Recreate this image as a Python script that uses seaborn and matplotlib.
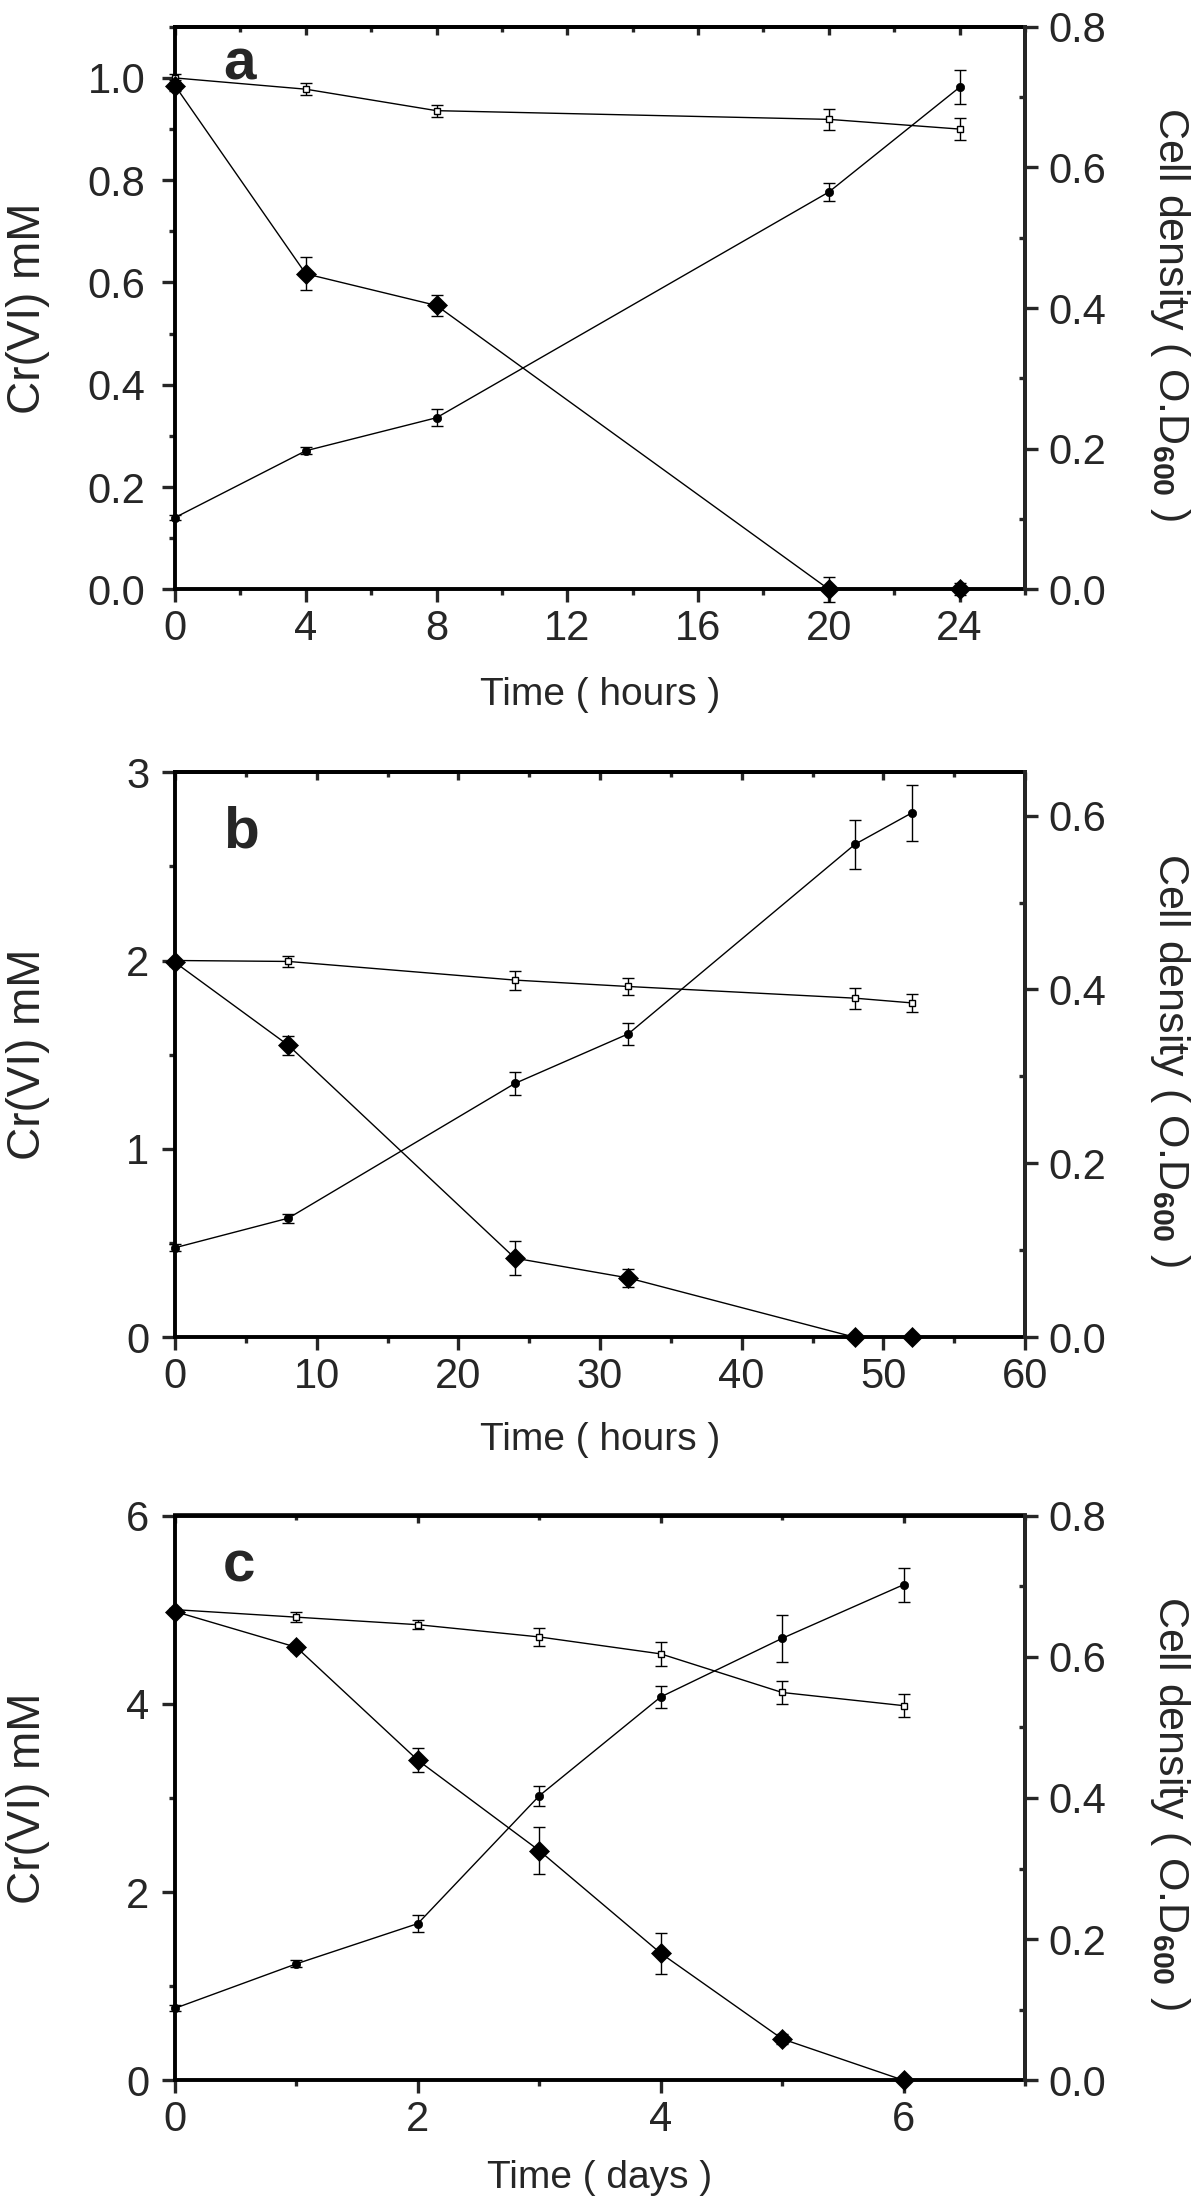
import numpy as np
import pandas as pd
import matplotlib
matplotlib.use("Agg")
import matplotlib.pyplot as plt
from matplotlib.ticker import MultipleLocator, FormatStrFormatter
import seaborn as sns

# ---------------- data ----------------
a_time = [0, 4, 8, 20, 24]
a_cr = [0.985, 0.617, 0.555, 0.0, 0.0]
a_cr_err = [0.01, 0.032, 0.02, 0.025, 0.012]
a_ctrl = [1.0, 0.978, 0.936, 0.919, 0.900]
a_ctrl_err = [0.008, 0.012, 0.012, 0.021, 0.022]
a_od = [0.102, 0.197, 0.244, 0.565, 0.714]
a_od_err = [0.004, 0.005, 0.012, 0.013, 0.024]

b_time = [0, 8, 24, 32, 48, 52]
b_cr = [1.99, 1.55, 0.42, 0.315, 0.0, 0.0]
b_cr_err = [0.02, 0.05, 0.09, 0.05, 0.0, 0.0]
b_ctrl = [2.0, 1.995, 1.896, 1.862, 1.80, 1.775]
b_ctrl_err = [0.01, 0.03, 0.05, 0.045, 0.055, 0.048]
b_od = [0.103, 0.137, 0.292, 0.349, 0.567, 0.603]
b_od_err = [0.004, 0.005, 0.013, 0.013, 0.028, 0.032]

c_time = [0, 1, 2, 3, 4, 5, 6]
c_cr = [4.98, 4.60, 3.40, 2.44, 1.35, 0.44, 0.0]
c_cr_err = [0.03, 0.04, 0.13, 0.25, 0.22, 0.05, 0.0]
c_ctrl = [5.0, 4.92, 4.84, 4.71, 4.53, 4.12, 3.98]
c_ctrl_err = [0.02, 0.05, 0.05, 0.10, 0.13, 0.12, 0.12]
c_od = [0.102, 0.165, 0.222, 0.403, 0.543, 0.626, 0.702]
c_od_err = [0.004, 0.005, 0.012, 0.014, 0.015, 0.033, 0.024]

panel_letters = ["a", "b", "c"]
x_labels = ["Time ( hours )", "Time ( hours )", "Time ( days )"]
y_left_label = "Cr(VI) mM"
y_right_label = r"Cell density ( O.D$_{\mathbf{600}}$ )"

# ---------------- style ----------------
sns.set_style("white")
plt.rcParams["font.family"] = ["Liberation Sans", "DejaVu Sans"]
plt.rcParams["mathtext.fontset"] = "custom"
plt.rcParams["mathtext.rm"] = "Liberation Sans"
plt.rcParams["mathtext.bf"] = "Liberation Sans:bold"
plt.rcParams["mathtext.it"] = "Liberation Sans:italic"

TICK_FS = 30
XLABEL_FS = 28
YLABEL_FS = 33
Y2LABEL_FS = 31
SPINE_W = 2.8

fig = plt.figure(figsize=(12, 22.03), dpi=100)
W, H = 1200.0, 2203.0
L, R = 175.0, 1025.0
panel_px = [(26.8, 589.3), (772.1, 1337.3), (1515.5, 2080.3)]
xlabel_y_px = [695, 1440, 2178]
letter_base_px = [79, 847, 1582]


def draw_series(ax, t, y, yerr, marker, ms, mfc, mew, cap):
    df = pd.DataFrame({"t": t, "y": y})
    sns.lineplot(data=df, x="t", y="y", ax=ax, color="black", lw=1.0,
                 marker=marker, markersize=ms, markerfacecolor=mfc,
                 markeredgecolor="black", markeredgewidth=mew,
                 errorbar=None, clip_on=False, zorder=5, legend=False)
    cont = ax.errorbar(t, y, yerr=yerr, fmt="none", ecolor="black",
                       elinewidth=1.0, capsize=cap, capthick=1.0, zorder=4)
    for art in cont.get_children():
        art.set_clip_on(False)


def panel(i, t, cr, cr_e, ctrl, ctrl_e, od, od_e, xlim, xmaj, xmin,
          ylim, ymaj, ymin, yfmt, y2lim, left_pad):
    top, bot = panel_px[i]
    ax = fig.add_axes([L / W, 1 - bot / H, (R - L) / W, (bot - top) / H])
    ax.set_facecolor("none")
    ax2 = ax.twinx()

    # series
    draw_series(ax, t, ctrl, ctrl_e, "s", 5, "white", 1.0, 4.5)
    draw_series(ax, t, cr, cr_e, "D", 10, "black", 0.5, 4.5)
    draw_series(ax2, t, od, od_e, "o", 6, "black", 0.5, 4.5)

    ax.set_xlim(*xlim)
    ax.set_ylim(*ylim)
    ax2.set_ylim(*y2lim)

    ax.xaxis.set_major_locator(MultipleLocator(xmaj))
    ax.xaxis.set_minor_locator(MultipleLocator(xmin))
    ax.yaxis.set_major_locator(MultipleLocator(ymaj))
    ax.yaxis.set_minor_locator(MultipleLocator(ymin))
    ax.yaxis.set_major_formatter(FormatStrFormatter(yfmt))
    ax2.yaxis.set_major_locator(MultipleLocator(0.2))
    ax2.yaxis.set_minor_locator(MultipleLocator(0.1))
    ax2.yaxis.set_major_formatter(FormatStrFormatter("%.1f"))

    for sp in ax.spines.values():
        sp.set_linewidth(SPINE_W)
        sp.set_color("black")
    for k in ["top", "bottom", "left"]:
        ax2.spines[k].set_visible(False)
    ax2.spines["right"].set_linewidth(SPINE_W)

    ax.tick_params(axis="x", which="major", direction="out", length=9.5,
                   width=2.4, labelsize=TICK_FS, pad=5, top=False, bottom=True)
    ax.tick_params(axis="x", which="minor", direction="out", length=4.5,
                   width=2.4, top=False, bottom=True)
    ax.tick_params(axis="y", which="major", direction="out", length=9.5,
                   width=2.4, labelsize=TICK_FS, pad=left_pad, left=True, right=False)
    ax.tick_params(axis="y", which="minor", direction="out", length=4.5,
                   width=2.4, left=True, right=False)
    ax2.tick_params(axis="y", which="major", direction="out", length=9.5,
                    width=2.4, labelsize=TICK_FS, pad=7)
    ax2.tick_params(axis="y", which="minor", direction="in", length=4.5,
                    width=2.4)

    sec = ax.secondary_xaxis("top")
    sec.xaxis.set_major_locator(MultipleLocator(xmaj))
    sec.xaxis.set_minor_locator(MultipleLocator(xmin))
    sec.tick_params(axis="x", which="major", direction="in", length=6,
                    width=2.4, labeltop=False)
    sec.tick_params(axis="x", which="minor", direction="in", length=3.5,
                    width=2.4)
    sec.spines["top"].set_linewidth(SPINE_W)

    hpx = bot - top
    ax.set_xlabel(x_labels[i], fontsize=XLABEL_FS, va="center")
    ax.xaxis.set_label_coords(0.5, -(xlabel_y_px[i] - bot) / hpx)
    ax.set_ylabel(y_left_label, fontsize=YLABEL_FS, va="center")
    ax.yaxis.set_label_coords((28 - L) / (R - L), 0.5)
    ax2.set_ylabel(y_right_label, fontsize=Y2LABEL_FS, rotation=270,
                   va="center", ha="center")
    ax2.yaxis.set_label_coords((1170 - L) / (R - L), 0.49)

    ax.text((223 - L) / (R - L), (bot - letter_base_px[i]) / hpx,
            panel_letters[i], transform=ax.transAxes, fontsize=42,
            fontweight="bold", ha="left", va="baseline")


panel(0, a_time, a_cr, a_cr_err, a_ctrl, a_ctrl_err, a_od, a_od_err,
      (0, 26), 4, 2, (0, 1.1), 0.2, 0.1, "%.1f", (0, 0.8), 12)
panel(1, b_time, b_cr, b_cr_err, b_ctrl, b_ctrl_err, b_od, b_od_err,
      (0, 60), 10, 5, (0, 3), 1, 0.5, "%d", (0, 0.65), 9)
panel(2, c_time, c_cr, c_cr_err, c_ctrl, c_ctrl_err, c_od, c_od_err,
      (0, 7), 2, 1, (0, 6), 2, 1, "%d", (0, 0.8), 9)

fig.savefig("out.png", dpi=100, facecolor="white")
